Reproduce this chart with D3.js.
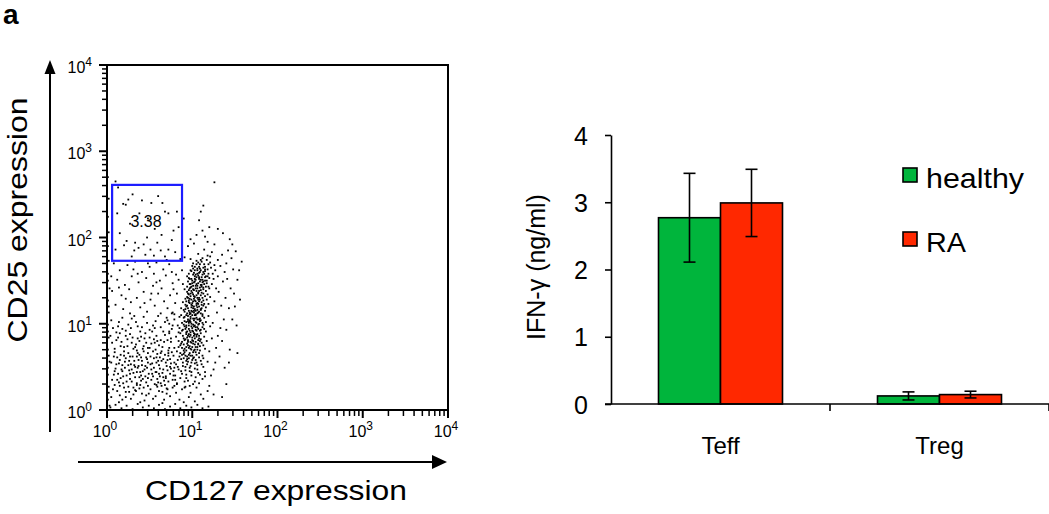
<!DOCTYPE html>
<html>
<head>
  <meta charset="utf-8">
  <script src="https://cdn.jsdelivr.net/npm/d3@7/dist/d3.min.js"></script>
  <style>
    body { margin: 0; background: #fff; }
    text { font-family: "Liberation Sans", Arial, Helvetica, sans-serif; fill: #000; }
  </style>
</head>
<body>
<svg id="chart" width="1049" height="514"></svg>
<script>
// ---- data ----
// flow plot: each event is [log10 CD127, log10 CD25]
var decades = [0, 1, 2, 3, 4];
var gate = { x0: 0.06, x1: 0.88, y0: 1.73, y1: 2.61, label: "3.38" };
var events = [
  // dense CD127+ column
  [0.82,0.31],[0.95,0.34],[1.04,0.38],[0.88,0.42],[0.99,0.44],[1.12,0.36],[0.78,0.40],[0.91,0.33],[1.07,0.43],[0.86,0.37],[1.01,0.30],[0.93,0.41],[1.15,0.44],[0.80,0.35],
  [0.84,0.47],[0.97,0.49],[1.06,0.52],[0.89,0.55],[1.00,0.58],[0.92,0.46],[1.10,0.57],[0.81,0.53],[0.95,0.56],[1.03,0.48],[0.87,0.59],[1.13,0.50],[0.98,0.51],[0.90,0.60],[1.05,0.55],[0.79,0.49],[0.94,0.53],[1.18,0.56],
  [0.85,0.62],[0.96,0.64],[1.02,0.61],[0.91,0.67],[1.08,0.66],[0.99,0.70],[0.88,0.72],[1.04,0.73],[0.93,0.69],[1.12,0.63],[0.82,0.68],[0.97,0.74],[1.06,0.70],[0.90,0.65],[1.01,0.67],[1.15,0.71],[0.94,0.62],[0.86,0.75],[1.09,0.74],[0.98,0.63],[1.20,0.68],
  [0.87,0.77],[0.95,0.79],[1.03,0.76],[0.92,0.82],[1.07,0.81],[1.00,0.84],[0.89,0.86],[1.11,0.78],[0.96,0.88],[1.05,0.87],[0.84,0.80],[0.99,0.78],[1.14,0.85],[0.93,0.90],[1.02,0.89],[0.90,0.76],[1.08,0.83],[0.97,0.85],[1.17,0.80],[0.86,0.89],[1.04,0.79],
  [0.88,0.92],[0.96,0.94],[1.01,0.91],[1.06,0.96],[0.93,0.98],[1.10,0.93],[0.99,1.00],[0.91,1.03],[1.04,1.02],[1.13,0.99],[0.85,0.95],[0.97,1.04],[1.08,1.05],[1.02,0.97],[0.94,0.91],[1.16,1.02],[0.90,0.99],[1.00,0.95],[1.05,1.01],[0.95,1.05],[1.21,0.97],
  [0.90,1.07],[0.98,1.08],[1.03,1.10],[1.09,1.06],[0.94,1.12],[1.12,1.11],[1.00,1.14],[0.92,1.17],[1.06,1.16],[1.15,1.15],[0.87,1.10],[0.99,1.19],[1.08,1.20],[1.02,1.13],[0.96,1.15],[1.19,1.09],[0.93,1.20],[1.05,1.07],[1.11,1.18],[1.01,1.18],
  [0.92,1.22],[1.00,1.24],[1.05,1.21],[1.11,1.25],[0.96,1.27],[1.14,1.23],[1.02,1.29],[0.94,1.31],[1.08,1.30],[1.17,1.28],[0.89,1.25],[1.01,1.34],[1.10,1.33],[1.04,1.26],[0.98,1.32],[1.21,1.31],[0.95,1.35],[1.07,1.23],[1.13,1.35],
  [0.94,1.37],[1.02,1.39],[1.07,1.36],[1.13,1.40],[0.98,1.42],[1.16,1.38],[1.04,1.44],[0.97,1.46],[1.10,1.45],[1.19,1.43],[0.91,1.40],[1.03,1.49],[1.12,1.48],[1.06,1.41],[1.00,1.47],[1.23,1.46],[1.15,1.50],[0.95,1.49],
  [0.97,1.52],[1.05,1.54],[1.10,1.51],[1.16,1.55],[1.01,1.57],[1.20,1.53],[1.08,1.59],[0.99,1.61],[1.13,1.60],[1.24,1.58],[0.94,1.55],[1.06,1.64],[1.18,1.63],[1.27,1.62],[1.03,1.62],
  [1.00,1.67],[1.09,1.69],[1.15,1.66],[1.21,1.71],[1.05,1.73],[1.26,1.68],[1.12,1.76],[0.98,1.75],[1.18,1.79],[1.30,1.74],[1.07,1.81],[1.23,1.83],[1.35,1.80],[1.14,1.86],
  [0.93,0.57],[1.01,0.60],[0.97,0.66],[1.05,0.64],[0.91,0.71],[1.00,0.73],[1.07,0.77],[0.95,0.81],[1.03,0.83],[0.98,0.87],[1.10,0.89],[0.92,0.94],[1.04,0.93],[0.99,0.97],[1.07,0.99],[0.96,1.01],
  [1.02,1.04],[1.09,1.03],[0.95,1.09],[1.04,1.11],[1.00,1.10],[1.07,1.13],[0.97,1.13],[1.03,1.17],[1.10,1.16],[0.99,1.22],[1.06,1.24],[1.03,1.27],[1.09,1.28],[0.97,1.29],[1.05,1.33],[1.00,1.36],
  [1.08,1.38],[1.04,1.41],[1.11,1.43],[1.01,1.44],[1.07,1.47],[1.14,1.46],[1.04,1.51],[1.11,1.54],[1.07,1.56],[1.14,1.58],[1.02,1.59],[1.10,1.62],[0.88,0.64],[0.94,0.77],[1.06,0.88],[0.90,0.83],
  [1.12,0.96],[0.88,1.01],[1.14,1.07],[0.91,1.14],[1.16,1.19],[0.93,1.26],[1.18,1.34],[0.96,1.39],[1.20,1.41],[0.99,1.52],[1.17,1.50],[1.01,1.70],[1.11,1.72],[1.17,1.74],[1.08,1.66],[0.96,1.58],
  [1.22,1.65],[0.89,1.46],[1.25,1.52],[0.87,1.18],[1.19,1.23],[0.84,0.90],[1.16,0.91],[0.83,0.58],[1.13,0.60],[0.99,0.55],[1.03,0.70],[0.96,0.72],[1.01,0.80],[1.05,0.92],[0.98,1.06],[1.01,1.26],
  [0.92,0.50],[1.03,0.54],[0.96,0.60],[1.08,0.61],[0.90,0.69],[1.02,0.69],[0.95,0.75],[1.07,0.76],[0.91,0.81],[1.05,0.85],[0.98,0.90],[1.09,0.92],[0.93,0.96],[1.03,0.98],[0.97,1.03],[1.06,1.05],
  [0.91,1.08],[1.04,1.10],[0.99,1.15],[1.10,1.17],[0.94,1.21],[1.05,1.23],[0.99,1.28],[1.12,1.30],[0.96,1.34],[1.07,1.35],[1.01,1.40],[1.13,1.42],[0.98,1.46],[1.09,1.49],[1.03,1.52],[1.15,1.54],
  [1.06,1.58],[0.98,1.62],[1.13,1.65],[1.05,1.69],[0.97,0.45],[1.06,0.47],[0.89,0.51],[1.11,0.53],[0.94,0.59],[1.04,0.58],[0.86,0.66],[1.00,0.63],[1.09,0.69],[0.93,0.73],[1.13,0.75],[0.88,0.79],
  [1.00,0.81],[1.10,0.82],[0.95,0.86],[1.03,0.88],[0.89,0.93],[1.00,0.92],[1.14,0.94],[0.96,0.98],[1.08,1.00],[0.93,1.02],[1.01,1.06],[1.12,1.09],[0.97,1.11],[1.06,1.12],[0.90,1.16],[1.02,1.20],
  [1.13,1.21],[0.97,1.24],[1.08,1.26],[0.92,1.29],[1.03,1.31],[1.15,1.32],[0.99,1.38],[1.10,1.39],[0.94,1.43],[1.06,1.44],[1.17,1.47],[1.02,1.48],[1.12,1.51],[0.96,1.53],[1.08,1.54],[1.19,1.58],
  [1.04,1.57],[1.15,1.61],[1.09,1.64],[1.03,1.66],[1.19,1.69],[1.10,1.74],[0.99,0.40],[1.09,0.41],[0.93,0.37],[1.03,0.33],[0.87,0.45],[1.15,0.39],[0.97,0.28],[1.08,0.31],[0.91,0.26],
  [0.98,0.71],[1.06,0.73],[1.01,0.77],[0.94,0.84],[1.08,0.86],[1.02,0.86],[0.97,0.92],[1.07,0.94],[1.01,0.99],[0.95,1.03],[1.10,1.04],[1.03,1.06],[0.98,1.12],[1.08,1.14],[1.02,1.15],[0.95,1.18],
  [1.06,1.19],[1.11,1.22],[1.00,1.21],[0.96,1.25],[1.07,1.28],[1.02,1.32],[1.11,1.36],[0.98,1.35],[1.05,1.38],[1.09,1.42],[0.99,1.43],[1.05,1.46],[1.13,1.49],[1.00,1.50],[1.08,1.52],[1.12,1.57],
  [1.03,1.55],[1.09,1.60],[1.15,1.63],[1.06,1.62],[0.92,0.63],[1.04,0.67],[0.98,0.79],[1.09,0.80],[0.93,0.88],[1.04,0.96],[0.91,0.97],[1.12,1.01],[0.98,1.02],[1.10,1.12],[0.93,1.10],[1.04,1.15],
  [1.13,1.27],[0.95,1.30],[1.06,1.30],[1.16,1.43],[0.97,1.41],[1.11,1.45],[1.18,1.55],[1.01,1.64],[1.14,1.69],[1.07,1.71],
  // halo around the column
  [0.70,0.25],[1.20,0.28],[0.74,0.50],[1.25,0.47],[0.72,0.66],[1.28,0.72],[0.75,0.83],[1.30,0.86],[0.77,0.98],[1.33,0.95],[0.76,1.12],[1.29,1.13],[0.80,1.24],[1.34,1.21],[0.82,1.35],[1.31,1.37],
  [0.84,1.51],[1.36,1.49],[0.88,1.62],[1.38,1.60],[0.91,1.77],[1.40,1.70],[1.26,1.92],[1.18,1.95],[1.42,1.85],[1.46,1.76],[1.48,1.63],[1.41,1.52],[1.45,1.41],[1.39,1.30],[1.43,1.18],[1.37,1.05],
  [1.40,0.93],[1.35,0.80],[1.32,0.62],[1.27,0.55],[1.22,0.40],[1.18,0.22],[1.10,0.18],[0.98,0.20],[0.88,0.24],[1.05,0.26],[0.79,0.28],[1.23,0.83],[1.24,1.01],[1.26,1.26],[1.28,1.41],[1.30,1.55],
  [1.33,1.67],[1.21,1.78],[0.73,0.91],[0.71,1.04],[0.69,0.37],[0.78,1.40],[0.81,1.57],[1.50,1.20],[1.47,1.05],[1.52,0.98],[1.44,0.70],[1.38,0.49],
  [1.53,0.66],[1.55,1.62],[1.58,1.72],[1.51,1.84],[1.49,1.35],[1.56,1.28],[1.43,0.55],[1.40,0.30],[1.35,0.15],[1.47,1.92],[1.44,1.98],[1.36,2.05],[1.30,2.10],[1.53,1.51],
  [1.26,2.64],[1.13,2.37],[1.10,2.30],[1.08,2.20],[1.12,2.08],[1.05,2.03],[1.15,2.01],[0.98,1.98],[1.20,2.12],[0.95,1.90],[1.02,1.93],
  // CD25 high / CD127 low (gate area)
  [0.30,2.50],[0.19,2.39],[0.22,2.38],[0.41,2.43],[0.52,2.40],[0.65,2.40],[0.72,2.28],[0.68,2.30],[0.84,2.12],[0.78,2.08],[0.23,1.96],[0.33,1.94],[0.37,1.88],[0.43,1.92],[0.51,1.86],[0.59,1.94],
  [0.63,1.85],[0.72,1.86],[0.80,1.83],[0.20,1.91],[0.32,1.85],[0.12,2.28],[0.15,2.05],[0.27,2.16],[0.48,2.22],[0.56,2.10],[0.64,2.03],[0.76,1.97],[0.45,1.80],[0.55,1.79],[0.29,1.78],[0.68,1.78],
  [0.38,2.28],[0.82,2.30],[0.10,1.86],[0.60,2.48],[0.47,2.00],[0.25,2.44],
  [0.10,2.65],[0.13,2.58],[0.88,1.95],[0.90,2.22],[0.86,1.75],
  // CD127 low, CD25 intermediate
  [0.08,1.70],[0.15,1.62],[0.24,1.68],[0.33,1.72],[0.41,1.60],[0.50,1.66],[0.58,1.71],[0.66,1.63],[0.73,1.69],[0.12,1.51],[0.21,1.45],[0.29,1.55],[0.37,1.48],[0.46,1.53],[0.54,1.44],[0.62,1.50],
  [0.69,1.56],[0.77,1.47],[0.06,1.38],[0.17,1.33],[0.26,1.40],[0.35,1.30],[0.43,1.37],[0.51,1.28],[0.60,1.35],[0.67,1.26],[0.74,1.33],[0.10,1.22],[0.19,1.17],[0.28,1.25],[0.39,1.19],[0.47,1.14],
  [0.56,1.21],[0.63,1.12],[0.71,1.18],[0.79,1.11],[0.05,1.55],[0.31,1.63],[0.55,1.58],[0.64,1.41],[0.44,1.24],[0.22,1.29],[0.14,1.42],[0.70,1.74],[0.36,1.58],[0.48,1.70],[0.58,1.48],[0.27,1.12],
  [0.52,1.35],[0.76,1.60],
  // diffuse double-low cloud
  [0.07,0.95],[0.14,1.02],[0.22,0.92],[0.29,1.06],[0.36,0.97],[0.43,1.08],[0.50,0.93],[0.57,1.03],[0.63,0.96],[0.70,1.07],[0.76,0.94],[0.11,0.90],[0.25,0.99],[0.39,0.91],[0.47,1.01],[0.54,0.98],
  [0.66,0.91],[0.73,1.00],[0.18,1.07],[0.32,1.09],[0.60,1.09],[0.41,0.96],[0.05,1.04],[0.79,1.05],
  [0.06,0.78],[0.13,0.84],[0.20,0.73],[0.27,0.88],[0.34,0.76],[0.40,0.85],[0.48,0.72],[0.55,0.82],[0.61,0.75],[0.68,0.87],[0.75,0.79],[0.09,0.71],[0.17,0.79],[0.24,0.82],[0.31,0.71],[0.38,0.80],
  [0.45,0.89],[0.52,0.77],[0.58,0.86],[0.65,0.73],[0.71,0.81],[0.79,0.72],[0.15,0.89],[0.29,0.78],[0.43,0.74],[0.50,0.84],[0.63,0.81],[0.22,0.86],[0.36,0.83],[0.57,0.70],[0.04,0.86],[0.73,0.89],
  [0.05,0.55],[0.12,0.61],[0.18,0.52],[0.25,0.66],[0.32,0.57],[0.38,0.64],[0.45,0.51],[0.51,0.62],[0.58,0.55],[0.64,0.68],[0.71,0.58],[0.78,0.63],[0.09,0.67],[0.15,0.58],[0.22,0.60],[0.28,0.53],
  [0.35,0.69],[0.41,0.57],[0.48,0.66],[0.55,0.60],[0.61,0.52],[0.68,0.64],[0.75,0.54],[0.20,0.68],[0.30,0.62],[0.43,0.68],[0.53,0.54],[0.66,0.59],[0.11,0.53],[0.37,0.51],[0.59,0.65],[0.26,0.57],
  [0.47,0.59],[0.72,0.69],[0.16,0.64],[0.40,0.61],[0.62,0.61],[0.33,0.50],
  [0.06,0.35],[0.13,0.42],[0.19,0.31],[0.26,0.46],[0.33,0.38],[0.39,0.44],[0.46,0.32],[0.52,0.47],[0.59,0.36],[0.65,0.43],[0.72,0.33],[0.78,0.45],[0.10,0.48],[0.16,0.37],[0.23,0.40],[0.29,0.33],
  [0.36,0.49],[0.42,0.36],[0.49,0.42],[0.56,0.30],[0.62,0.48],[0.69,0.39],[0.75,0.48],[0.21,0.49],[0.31,0.43],[0.44,0.47],[0.54,0.39],[0.67,0.34],[0.08,0.41],[0.35,0.31],[0.58,0.44],[0.27,0.36],
  [0.48,0.37],[0.71,0.46],[0.14,0.32],[0.40,0.40],[0.63,0.31],[0.18,0.45],
  [0.05,0.15],[0.12,0.22],[0.18,0.12],[0.25,0.27],[0.31,0.18],[0.38,0.25],[0.44,0.11],[0.51,0.24],[0.57,0.16],[0.64,0.28],[0.70,0.19],[0.77,0.26],[0.09,0.29],[0.15,0.17],[0.22,0.21],[0.28,0.13],
  [0.35,0.29],[0.41,0.19],[0.48,0.28],[0.54,0.13],[0.61,0.22],[0.67,0.12],[0.74,0.16],[0.20,0.26],[0.33,0.23],[0.46,0.17],[0.59,0.27],[0.81,0.20],[0.85,0.12],[0.92,0.27],[0.96,0.15],[1.03,0.10],
  [1.13,0.13],[1.25,0.18],
  [0.08,0.62],[0.17,0.47],[0.24,0.74],[0.31,0.26],[0.37,0.58],[0.44,0.83],[0.52,0.35],[0.58,0.61],[0.66,0.47],[0.73,0.72],[0.12,0.35],[0.21,0.56],[0.28,0.95],[0.35,0.44],[0.42,0.71],[0.49,0.19],
  [0.56,0.78],[0.62,0.39],[0.69,0.55],[0.77,0.35],[0.07,0.24],[0.16,0.74],[0.23,0.33],[0.30,0.84],[0.39,0.29],[0.46,0.61],[0.53,0.91],[0.60,0.32],[0.67,0.79],[0.74,0.42],[0.11,0.81],[0.19,0.39],
  [0.27,0.62],[0.34,0.22],[0.41,0.52],[0.50,0.72],[0.57,0.44],[0.64,0.57],[0.71,0.24],[0.79,0.55],[0.14,0.54],[0.22,0.15],[0.29,0.47],[0.36,0.66],[0.43,0.26],[0.51,0.53],[0.59,0.80],[0.65,0.21],
  [0.72,0.63],[0.80,0.40],[0.09,0.45],[0.18,0.94],[0.26,0.21],[0.33,0.73],[0.40,0.34],[0.47,0.49],[0.54,0.68],[0.61,0.42],[0.68,0.29],[0.76,0.67],[0.20,0.63],[0.32,0.52],[0.45,0.39],[0.55,0.49],
  [0.63,0.66],[0.38,0.38],[0.27,0.42],[0.48,0.55],[0.58,0.29],[0.70,0.51],[0.15,0.28],[0.25,0.52],[0.42,0.45],[0.53,0.42],[0.66,0.38],[0.35,0.62],[0.46,0.78],[0.60,0.57],[0.74,0.59],[0.83,0.50],
  [0.82,0.30],[0.84,0.73],[0.81,0.85],[0.83,0.98],[0.85,1.08],[0.13,0.97],[0.34,1.02],[0.56,0.95],[0.68,1.02],[0.77,1.13],
  // events piled on the axes
  [0.04,0.03],[0.10,0.06],[0.17,0.02],[0.23,0.05],[0.30,0.01],[0.36,0.07],[0.42,0.03],[0.49,0.05],[0.55,0.02],[0.61,0.06],[0.68,0.01],[0.74,0.04],[0.80,0.07],[0.86,0.02],[0.93,0.05],[0.99,0.03],
  [1.06,0.06],[1.12,0.02],[1.19,0.04],[0.14,0.09],[0.39,0.09],[0.65,0.08],[0.90,0.09],
  [0.01,0.12],[0.02,0.27],[0.01,0.41],[0.03,0.56],[0.01,0.70],[0.02,0.84],[0.01,0.99],[0.02,1.13],[0.01,1.27],[0.03,1.41],[0.01,1.58],[0.02,1.73],[0.01,1.90],[0.02,2.06],[0.01,2.24],[0.02,2.45],
  [0.01,2.70],[0.02,0.20],[0.01,0.49],[0.02,0.63],[0.01,0.91],[0.02,1.20],[0.01,1.50],[0.03,0.05]
];

// bar chart
var cells = ["Teff", "Treg"];
var groups = ["healthy", "RA"];
var ifnMean = { healthy: [2.77, 0.12], RA: [2.99, 0.14] };
var ifnErr  = { healthy: [0.66, 0.06], RA: [0.50, 0.05] };
var ifnTicks = [0, 1, 2, 3, 4];
var colors = { healthy: "#00b53c", RA: "#ff2800" };

var svg = d3.select("#chart");

// panel letter
svg.append("text").attr("x", 3).attr("y", 24)
  .style("font-size", "28px").style("font-weight", "bold").text("a");

// ================= flow cytometry dot plot =================
var fx = d3.scaleLinear().domain([0, 4]).range([107, 448]);
var fy = d3.scaleLinear().domain([0, 4]).range([410, 65]);

var flow = svg.append("g");

// dots
flow.selectAll("rect.ev")
  .data(events)
  .enter()
  .append("rect")
  .attr("class", "ev")
  .attr("x", function(d) { return fx(d[0]) - 0.9; })
  .attr("y", function(d) { return fy(d[1]) - 0.9; })
  .attr("width", 1.8)
  .attr("height", 1.8)
  .attr("fill", "#000");

// frame
flow.append("rect")
  .attr("x", fx(0)).attr("y", fy(4))
  .attr("width", fx(4) - fx(0)).attr("height", fy(0) - fy(4))
  .attr("fill", "none").attr("stroke", "#000").attr("stroke-width", 2);

// log ticks (major at decades, minor at 2..9)
var logTicks = [];
decades.forEach(function(d) {
  logTicks.push({ v: d, major: true });
  if (d < 4) {
    for (var k = 2; k <= 9; k++) logTicks.push({ v: d + Math.log10(k), major: false });
  }
});

flow.selectAll("line.xt")
  .data(logTicks).enter().append("line")
  .attr("x1", function(d) { return fx(d.v); })
  .attr("x2", function(d) { return fx(d.v); })
  .attr("y1", fy(0))
  .attr("y2", function(d) { return fy(0) + (d.major ? 8 : 6); })
  .attr("stroke", "#000").attr("stroke-width", function(d) { return d.major ? 2 : 1.5; });

flow.selectAll("line.yt")
  .data(logTicks).enter().append("line")
  .attr("y1", function(d) { return fy(d.v); })
  .attr("y2", function(d) { return fy(d.v); })
  .attr("x1", fx(0))
  .attr("x2", function(d) { return fx(0) - (d.major ? 8 : 5); })
  .attr("stroke", "#000").attr("stroke-width", function(d) { return d.major ? 2 : 1.5; });

// tick labels 10^n
var xl = flow.selectAll("text.xl")
  .data(decades).enter().append("text")
  .attr("x", function(d) { return fx(d) - 2; })
  .attr("y", 437)
  .attr("text-anchor", "middle")
  .style("font-size", "16px");
xl.append("tspan").text("10");
xl.append("tspan").attr("dy", -7).style("font-size", "12px").text(function(d) { return d; });

var yl = flow.selectAll("text.yl")
  .data(decades).enter().append("text")
  .attr("x", 92)
  .attr("y", function(d) { return fy(d) + 8; })
  .attr("text-anchor", "end")
  .style("font-size", "16px");
yl.append("tspan").text("10");
yl.append("tspan").attr("dy", -7).style("font-size", "12px").text(function(d) { return d; });

// gate
flow.append("rect")
  .attr("x", fx(gate.x0)).attr("y", fy(gate.y1))
  .attr("width", fx(gate.x1) - fx(gate.x0))
  .attr("height", fy(gate.y0) - fy(gate.y1))
  .attr("fill", "none").attr("stroke", "#1c1cff").attr("stroke-width", 2.2);
flow.append("text")
  .attr("x", 146).attr("y", 227)
  .attr("text-anchor", "middle")
  .style("font-size", "16px")
  .text(gate.label);

// arrows
flow.append("line").attr("x1", 50).attr("x2", 50).attr("y1", 72).attr("y2", 432)
  .attr("stroke", "#000").attr("stroke-width", 2);
flow.append("path").attr("d", "M50,60 L44.5,74 L55.5,74 Z").attr("fill", "#000");
flow.append("line").attr("x1", 78).attr("x2", 436).attr("y1", 462).attr("y2", 462)
  .attr("stroke", "#000").attr("stroke-width", 2);
flow.append("path").attr("d", "M447,462 L432,455 L432,469 Z").attr("fill", "#000");

// axis titles
flow.append("text")
  .attr("transform", "translate(27,220) rotate(-90)")
  .attr("text-anchor", "middle")
  .attr("textLength", 245).attr("lengthAdjust", "spacingAndGlyphs")
  .style("font-size", "28px")
  .text("CD25 expression");
flow.append("text")
  .attr("x", 276).attr("y", 500)
  .attr("text-anchor", "middle")
  .attr("textLength", 262).attr("lengthAdjust", "spacingAndGlyphs")
  .style("font-size", "28px")
  .text("CD127 expression");

// ================= IFN-gamma bar chart =================
var x0 = d3.scaleBand().domain(cells).range([611, 1049]);
var x1 = d3.scaleBand().domain(groups).range([-62, 62]);
var y = d3.scaleLinear().domain([0, 4]).range([404, 135]);

var bars = svg.append("g");

cells.forEach(function(c, ci) {
  var cx = x0(c) + x0.bandwidth() / 2;
  var g = bars.append("g").attr("transform", "translate(" + cx + ",0)");
  g.selectAll("rect")
    .data(groups).enter().append("rect")
    .attr("x", function(s) { return x1(s); })
    .attr("y", function(s) { return y(ifnMean[s][ci]); })
    .attr("width", x1.bandwidth())
    .attr("height", function(s) { return y(0) - y(ifnMean[s][ci]); })
    .attr("fill", function(s) { return colors[s]; })
    .attr("stroke", "#000").attr("stroke-width", 1.6);

  groups.forEach(function(s) {
    var m = x1(s) + x1.bandwidth() / 2;
    var hi = y(ifnMean[s][ci] + ifnErr[s][ci]);
    var lo = y(ifnMean[s][ci] - ifnErr[s][ci]);
    g.append("line").attr("x1", m).attr("x2", m).attr("y1", hi).attr("y2", lo)
      .attr("stroke", "#000").attr("stroke-width", 1.6);
    [hi, lo].forEach(function(v) {
      g.append("line").attr("x1", m - 6).attr("x2", m + 6).attr("y1", v).attr("y2", v)
        .attr("stroke", "#000").attr("stroke-width", 1.6);
    });
  });
});

// y axis
var yAxis = bars.append("g")
  .attr("transform", "translate(" + x0.range()[0] + ",0)")
  .call(d3.axisLeft(y).tickValues(ifnTicks).tickFormat(d3.format("d"))
    .tickSize(6).tickPadding(17).tickSizeOuter(0));
yAxis.select(".domain").attr("stroke-width", 1.6);
yAxis.selectAll(".tick line").attr("stroke-width", 1.6);
yAxis.selectAll(".tick text")
  .style("font-size", "25px")
  .style("font-family", "'Liberation Sans', Arial, Helvetica, sans-serif")
  .attr("dy", "0.36em");

// x axis line and category separators
bars.append("line")
  .attr("x1", x0.range()[0] - 6).attr("x2", x0.range()[1])
  .attr("y1", y(0)).attr("y2", y(0))
  .attr("stroke", "#000").attr("stroke-width", 1.6);
var seps = cells.map(function(c) { return x0(c); }).concat([x0.range()[1]]);
bars.selectAll("line.sep")
  .data(seps.slice(1)).enter().append("line")
  .attr("x1", function(d) { return d; }).attr("x2", function(d) { return d; })
  .attr("y1", y(0)).attr("y2", y(0) + 7)
  .attr("stroke", "#000").attr("stroke-width", 1.6);

bars.selectAll("text.cat")
  .data(cells).enter().append("text")
  .attr("x", function(c) { return x0(c) + x0.bandwidth() / 2; })
  .attr("y", 454)
  .attr("text-anchor", "middle")
  .style("font-size", "24px")
  .text(function(c) { return c; });

bars.append("text")
  .attr("transform", "translate(545,267) rotate(-90)")
  .attr("text-anchor", "middle")
  .style("font-size", "25px")
  .text("IFN-\u03b3 (ng/ml)");

// legend
var legWidth = { healthy: 98, RA: 40 };
var leg = bars.selectAll("g.leg")
  .data(groups).enter().append("g")
  .attr("transform", function(s, i) { return "translate(903," + (168 + i * 64) + ")"; });
leg.append("rect")
  .attr("width", 14).attr("height", 14)
  .attr("fill", function(s) { return colors[s]; })
  .attr("stroke", "#000").attr("stroke-width", 1.6);
leg.append("text")
  .attr("x", 23).attr("y", 20)
  .attr("textLength", function(s) { return legWidth[s]; })
  .attr("lengthAdjust", "spacingAndGlyphs")
  .style("font-size", "28px")
  .text(function(s) { return s; });
</script>
</body>
</html>
